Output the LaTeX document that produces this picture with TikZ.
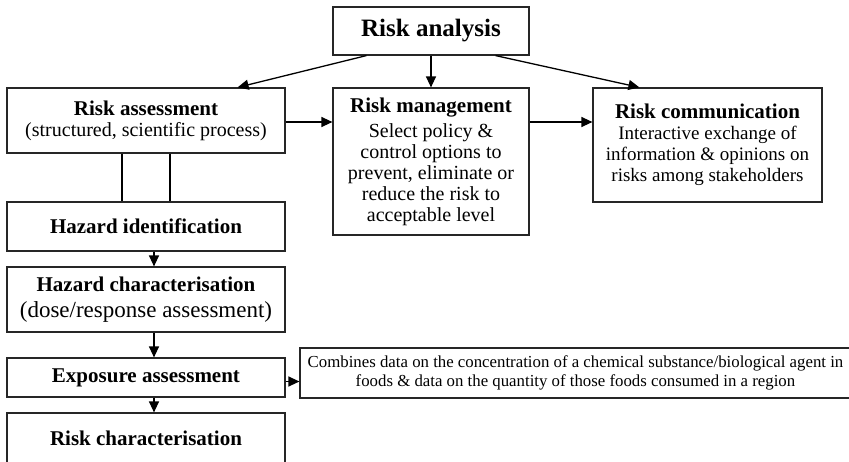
\documentclass[tikz,border=0pt]{standalone}
\usepackage{fontspec}
\setmainfont{Liberation Serif}
\usetikzlibrary{arrows.meta}
\newcommand{\setsz}[2]{\fontsize{#1}{#2}\selectfont}
\begin{document}
\begin{tikzpicture}[x=1pt,y=-1pt,>={Triangle[length=11pt,width=10pt]},line width=1.3pt,
	box/.style={draw=black!85,line width=1.2pt,inner sep=0pt,align=center,font=\setsz{20}{21}}]
	\useasboundingbox (0,0) rectangle (849,461);
	\clip (0,0) rectangle (849,461);
	\node[box,minimum width=196,minimum height=48] (1) at (431,31) {\bfseries\setsz{25}{28}Risk analysis};
	\node[box,minimum width=278,minimum height=65] (2) at (146,120.5) {{\bfseries\setsz{21}{22}Risk assessment}\\(structured, scientific process)};
	\node[box,minimum width=196,minimum height=147] (3) at (431,161.5) {{\bfseries\setsz{21}{22}Risk management}\\[4pt]Select policy \&\\control options to\\prevent, eliminate or\\reduce the risk to\\acceptable level};
	\node[box,minimum width=229,minimum height=114,font=\setsz{19}{21}] (4) at (707.5,145) {{\bfseries\setsz{21}{22}Risk communication}\\Interactive exchange of\\information \& opinions on\\risks among stakeholders};
	\node[box,minimum width=278,minimum height=49] (5) at (146,226.5) {\bfseries\setsz{21}{22}Hazard identification};
	\node[box,minimum width=278,minimum height=65,font=\setsz{23}{26}] (6) at (146,299.5) {{\bfseries\setsz{21}{22}Hazard characterisation}\\(dose/response assessment)};
	\node[box,minimum width=278,minimum height=39] (7) at (146,377.5) {\bfseries\setsz{21}{22}Exposure assessment};
	\node[box,minimum width=278,minimum height=50] (8) at (146,438) {\bfseries\setsz{21}{22}Risk characterisation};
	\node[box,minimum width=551,minimum height=50,font=\setsz{16.8}{19}] (9) at (575.5,373) {Combines data on the concentration of a chemical substance/biological agent in\\foods \& data on the quantity of those foods consumed in a region};

	\path [->] ([xshift=34]1.south west) edge ([xshift=-48]2.north east);
	\path [->] (1) edge (3);
	\path [->] ([xshift=-34]1.south east) edge ([xshift=47]4.north west);
	\path [->] ([yshift=-1.5]2.east) edge ([yshift=-1.5]2.east -| 3.west);
	\path [->] ([yshift=-1.5]2.east -| 3.east) edge ([yshift=-1.5]2.east -| 4.west);
	\path [line width=1.6pt] ([xshift=-24]2.south) edge ([xshift=-24]5.north);
	\path [line width=1.6pt] ([xshift=24]2.south) edge ([xshift=24]5.north);
	\path [->] ([xshift=8]5.south) edge ([xshift=8]6.north);
	\path [->] ([xshift=8]6.south) edge ([xshift=8]7.north);
	\path [->] ([xshift=8]7.south) edge ([xshift=8]8.north);
	\path [->] ([yshift=-4]7.east) edge ([yshift=-4]7.east -| 9.west);
\end{tikzpicture}
\end{document}
